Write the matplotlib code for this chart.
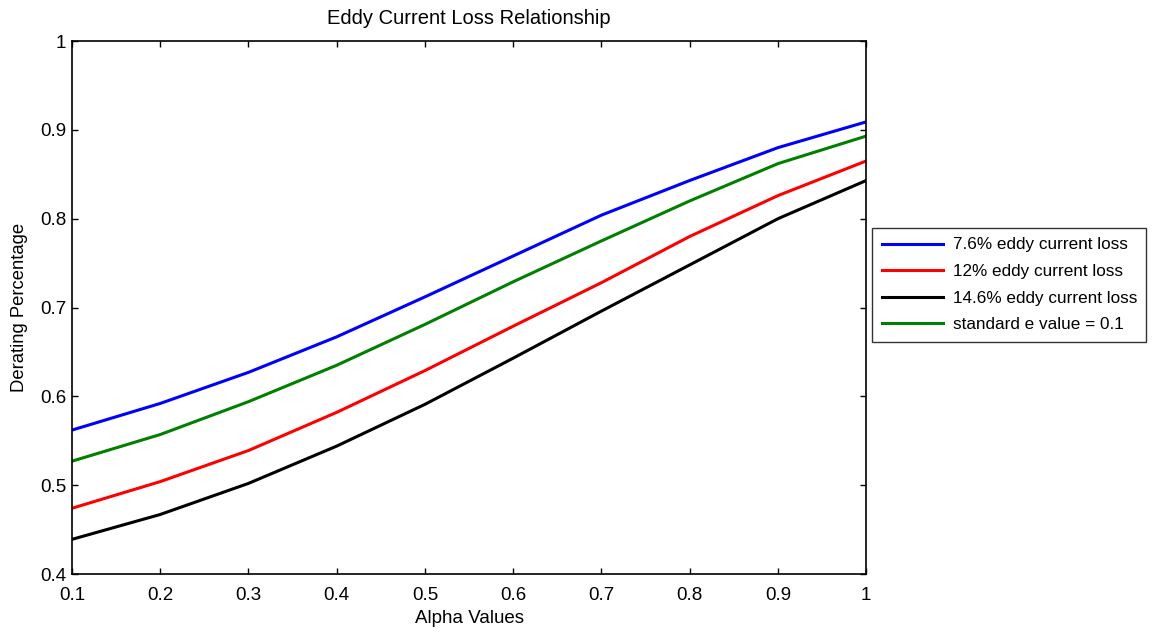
import matplotlib
matplotlib.use("Agg")
import matplotlib.pyplot as plt

plt.rcParams['font.family'] = ['Liberation Sans', 'DejaVu Sans']

alpha = [0.1, 0.2, 0.3, 0.4, 0.5, 0.6, 0.7, 0.8, 0.9, 1.0]
loss_76 = [0.562, 0.592, 0.627, 0.667, 0.712, 0.758, 0.804, 0.843, 0.880, 0.909]
loss_12 = [0.474, 0.504, 0.539, 0.582, 0.629, 0.679, 0.728, 0.780, 0.826, 0.865]
loss_146 = [0.439, 0.467, 0.502, 0.544, 0.591, 0.643, 0.696, 0.748, 0.800, 0.843]
standard = [0.527, 0.557, 0.594, 0.635, 0.681, 0.729, 0.775, 0.820, 0.862, 0.893]
labels = ['7.6% eddy current loss', '12% eddy current loss',
          '14.6% eddy current loss', 'standard e value = 0.1']
xticks = [0.1, 0.2, 0.3, 0.4, 0.5, 0.6, 0.7, 0.8, 0.9, 1.0]
xticklabels = ['0.1', '0.2', '0.3', '0.4', '0.5', '0.6', '0.7', '0.8', '0.9', '1']
yticks = [0.4, 0.5, 0.6, 0.7, 0.8, 0.9, 1.0]
yticklabels = ['0.4', '0.5', '0.6', '0.7', '0.8', '0.9', '1']

fig = plt.figure(figsize=(11.55, 6.33), dpi=100)
ax = fig.add_axes([0.0623, 0.0932, 0.6877, 0.842])
colors = ['#0000ff', '#ff0000', '#000000', '#008000']
for ys, c, l in zip([loss_76, loss_12, loss_146, standard], colors, labels):
    ax.plot(alpha, ys, color=c, lw=2.2, label=l)

ax.set_xlim(0.1, 1.0)
ax.set_ylim(0.4, 1.0)
ax.set_xticks(xticks)
ax.set_xticklabels(xticklabels)
ax.set_yticks(yticks)
ax.set_yticklabels(yticklabels)
ax.tick_params(direction='in', top=True, right=True, labelsize=13.5, length=4, width=1)
ax.tick_params(axis='x', pad=9)
ax.tick_params(axis='y', pad=4)
for s in ax.spines.values():
    s.set_linewidth(1.2)
ax.set_title('Eddy Current Loss Relationship', fontsize=14.5, pad=12)
ax.set_xlabel('Alpha Values', fontsize=13.5, labelpad=5)
ax.set_ylabel('Derating Percentage', fontsize=13.3, labelpad=9)

leg = ax.legend(loc='upper left', bbox_to_anchor=(1.0076, 0.649), fontsize=12.3,
                frameon=True, fancybox=False, edgecolor='black', handlelength=3.6,
                borderpad=0.55, labelspacing=0.68, borderaxespad=0, handletextpad=0.55)
leg.get_frame().set_linewidth(1.0)

fig.savefig('out.png', dpi=100)
